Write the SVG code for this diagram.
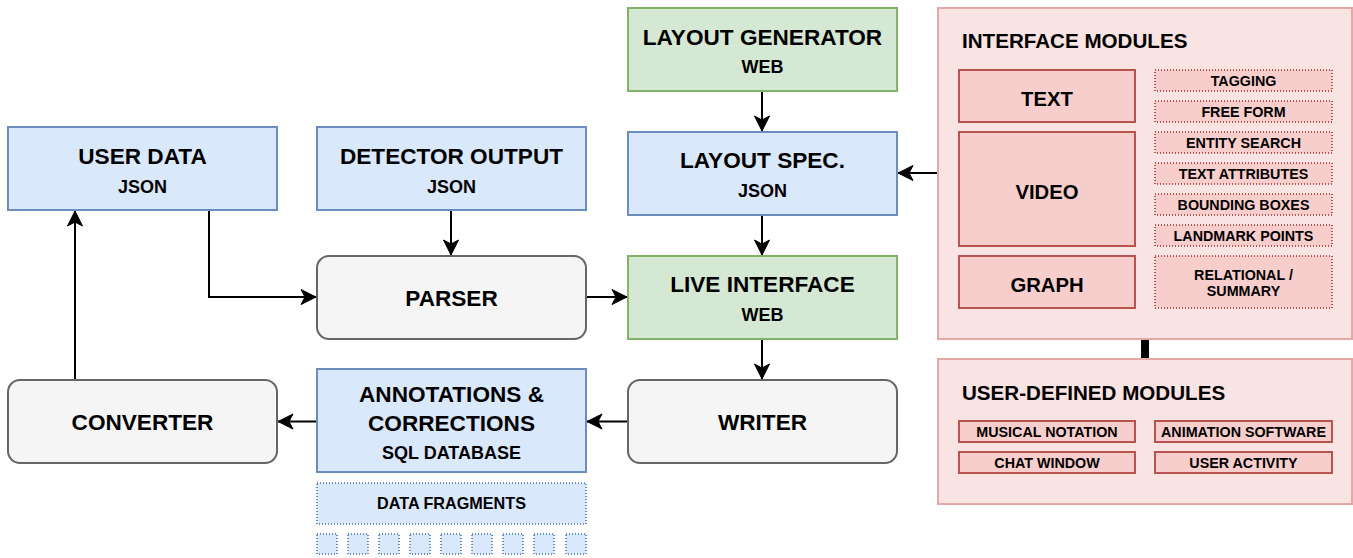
<svg xmlns="http://www.w3.org/2000/svg" width="1353" height="558" viewBox="0 0 1353 558">
  <defs>
    <style>
      text { font-family: "Liberation Sans", Arial, Helvetica, sans-serif; font-weight: bold; fill: #000; text-anchor: middle; }
      .t22 { font-size: 22.6px; }
      .t20 { font-size: 20.3px; }
      .t18 { font-size: 18px; }
      .t16 { font-size: 16.2px; }
      .t14 { font-size: 14.3px; }
      .title { font-size: 20.6px; text-anchor: start; }
      .blue { fill: #dae8fc; stroke: #6c8ebf; stroke-width: 2; }
      .blued { fill: #dae8fc; stroke: #6c8ebf; stroke-width: 2; stroke-dasharray: 1 2; }
      .green { fill: #d5e8d4; stroke: #82b366; stroke-width: 2; }
      .gray { fill: #f5f5f5; stroke: #666666; stroke-width: 2; }
      .cont { fill: #fae3e3; stroke: #e3a9a7; stroke-width: 2; }
      .red { fill: #f8cecc; stroke: #b85450; stroke-width: 2; }
      .redd { fill: #f8cecc; stroke: #b85450; stroke-width: 2; stroke-dasharray: 1 2; }
      .edge { fill: none; stroke: #000; stroke-width: 2; marker-end: url(#arr); }
    </style>
    <marker id="arr" markerUnits="userSpaceOnUse" viewBox="-16 -9 17 18" refX="0" refY="0" markerWidth="17" markerHeight="18" orient="auto">
      <path d="M0,0 L-15,-7.5 L-11,0 L-15,7.5 Z" fill="#000" stroke="#000" stroke-width="1"/>
    </marker>
  </defs>

  <g id="connectors">
    <path class="edge" d="M762,91 V131"/>
    <path class="edge" d="M762,215 V255"/>
    <path class="edge" d="M762,339 V379"/>
    <path class="edge" d="M938,173 H898"/>
    <path class="edge" d="M451,210 V255"/>
    <path class="edge" d="M209,210 V297 H316"/>
    <path class="edge" d="M586,297 H627"/>
    <path class="edge" d="M628,421.5 H587"/>
    <path class="edge" d="M317,421.5 H278"/>
    <path class="edge" d="M75,380 V211"/>
    <path d="M1145,339 V359" stroke="#000" stroke-width="8" fill="none"/>
  </g>

  <g id="user-data">
    <rect class="blue" x="8" y="127" width="269" height="83"/>
    <text class="t22" x="142.5" y="164">USER DATA</text>
    <text class="t18" x="142.5" y="193">JSON</text>
  </g>

  <g id="detector-output">
    <rect class="blue" x="317" y="127" width="269" height="83"/>
    <text class="t22" x="451.5" y="164">DETECTOR OUTPUT</text>
    <text class="t18" x="451.5" y="193">JSON</text>
  </g>

  <g id="layout-generator">
    <rect class="green" x="628" y="8" width="269" height="83"/>
    <text class="t22" x="762.5" y="45">LAYOUT GENERATOR</text>
    <text class="t18" x="762.5" y="73">WEB</text>
  </g>

  <g id="layout-spec">
    <rect class="blue" x="628" y="132" width="269" height="83"/>
    <text class="t22" x="762.5" y="168">LAYOUT SPEC.</text>
    <text class="t18" x="762.5" y="197">JSON</text>
  </g>

  <g id="parser">
    <rect class="gray" x="317" y="256" width="269" height="83" rx="12" ry="12"/>
    <text class="t22" x="451.5" y="305.5">PARSER</text>
  </g>

  <g id="live-interface">
    <rect class="green" x="628" y="256" width="269" height="83"/>
    <text class="t22" x="762.5" y="292">LIVE INTERFACE</text>
    <text class="t18" x="762.5" y="321">WEB</text>
  </g>

  <g id="writer">
    <rect class="gray" x="628" y="380" width="269" height="83" rx="12" ry="12"/>
    <text class="t22" x="762.5" y="430">WRITER</text>
  </g>

  <g id="annotations">
    <rect class="blue" x="317" y="369" width="269" height="103"/>
    <text class="t22" x="451.5" y="401.5">ANNOTATIONS &amp;</text>
    <text class="t22" x="451.5" y="431">CORRECTIONS</text>
    <text class="t18" x="451.5" y="459">SQL DATABASE</text>
  </g>

  <g id="converter">
    <rect class="gray" x="8" y="380" width="269" height="83" rx="12" ry="12"/>
    <text class="t22" x="142.5" y="430">CONVERTER</text>
  </g>

  <g id="data-fragments">
    <rect class="blued" x="317" y="483" width="269" height="41"/>
    <text class="t16" x="451.5" y="509">DATA FRAGMENTS</text>
    <rect class="blued" x="317" y="534" width="20" height="20"/>
    <rect class="blued" x="348" y="534" width="20" height="20"/>
    <rect class="blued" x="379" y="534" width="20" height="20"/>
    <rect class="blued" x="410" y="534" width="20" height="20"/>
    <rect class="blued" x="441" y="534" width="20" height="20"/>
    <rect class="blued" x="472" y="534" width="20" height="20"/>
    <rect class="blued" x="503" y="534" width="20" height="20"/>
    <rect class="blued" x="534" y="534" width="20" height="20"/>
    <rect class="blued" x="566" y="534" width="20" height="20"/>
  </g>

  <g id="interface-modules">
    <rect class="cont" x="938" y="8" width="414" height="331"/>
    <text class="title" x="962" y="48">INTERFACE MODULES</text>
    <rect class="red" x="959" y="70" width="176" height="52"/>
    <text class="t20" x="1047" y="106">TEXT</text>
    <rect class="red" x="959" y="132" width="176" height="114"/>
    <text class="t20" x="1047" y="199">VIDEO</text>
    <rect class="red" x="959" y="256" width="176" height="52"/>
    <text class="t20" x="1047" y="292">GRAPH</text>
    <rect class="redd" x="1155" y="70" width="177" height="21"/>
    <text class="t14" x="1243.5" y="85.5">TAGGING</text>
    <rect class="redd" x="1155" y="101" width="177" height="21"/>
    <text class="t14" x="1243.5" y="116.5">FREE FORM</text>
    <rect class="redd" x="1155" y="132" width="177" height="21"/>
    <text class="t14" x="1243.5" y="147.5">ENTITY SEARCH</text>
    <rect class="redd" x="1155" y="163" width="177" height="21"/>
    <text class="t14" x="1243.5" y="178.5">TEXT ATTRIBUTES</text>
    <rect class="redd" x="1155" y="194" width="177" height="21"/>
    <text class="t14" x="1243.5" y="209.5">BOUNDING BOXES</text>
    <rect class="redd" x="1155" y="225" width="177" height="21"/>
    <text class="t14" x="1243.5" y="240.5">LANDMARK POINTS</text>
    <rect class="redd" x="1155" y="256" width="177" height="52"/>
    <text class="t14" x="1243.5" y="279.5">RELATIONAL /</text>
    <text class="t14" x="1243.5" y="296">SUMMARY</text>
  </g>

  <g id="user-defined-modules">
    <rect class="cont" x="938" y="359" width="414" height="145"/>
    <text class="title" x="962" y="400">USER-DEFINED MODULES</text>
    <rect class="red" x="959" y="421" width="176" height="21"/>
    <text class="t14" x="1047" y="437">MUSICAL NOTATION</text>
    <rect class="red" x="959" y="452" width="176" height="21"/>
    <text class="t14" x="1047" y="468">CHAT WINDOW</text>
    <rect class="red" x="1155" y="421" width="177" height="21"/>
    <text class="t14" x="1243.5" y="437">ANIMATION SOFTWARE</text>
    <rect class="red" x="1155" y="452" width="177" height="21"/>
    <text class="t14" x="1243.5" y="468">USER ACTIVITY</text>
  </g>
</svg>
